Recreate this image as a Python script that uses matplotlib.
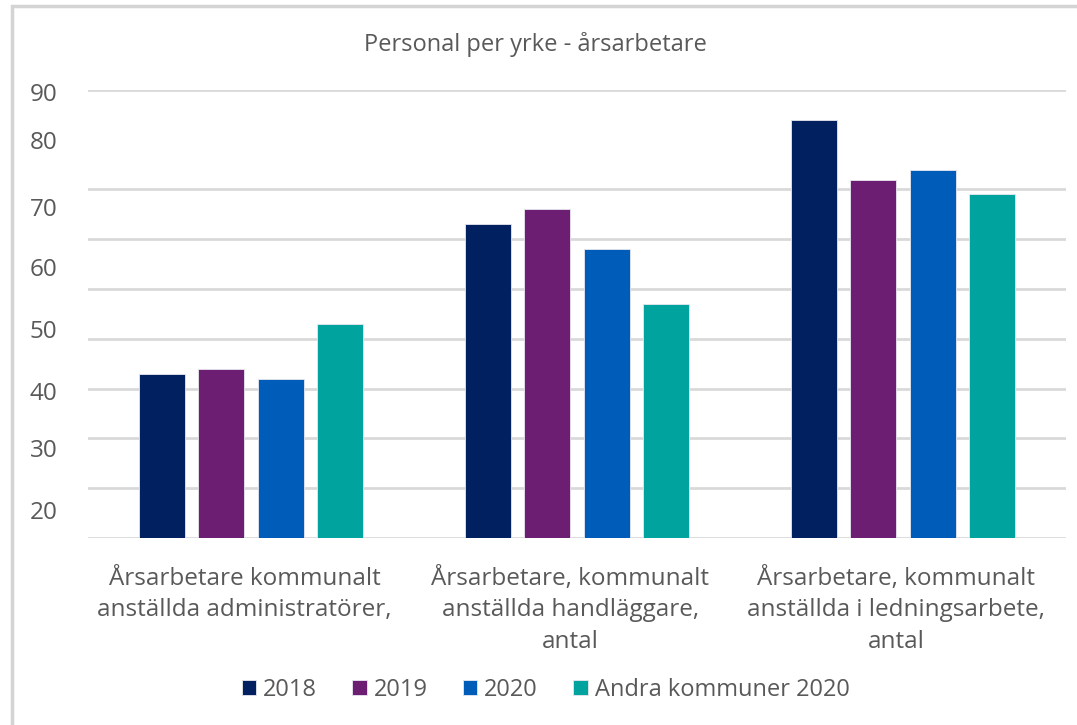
import matplotlib.pyplot as plt
import matplotlib.patches as mpatches
import numpy as np

# data
categories = ['Årsarbetare kommunalt\nanställda administratörer,',
              'Årsarbetare, kommunalt\nanställda handläggare,\nantal',
              'Årsarbetare, kommunalt\nanställda i ledningsarbete,\nantal']
series = ['2018', '2019', '2020', 'Andra kommuner 2020']
v2018 = [33, 63, 84]
v2019 = [34, 66, 72]
v2020 = [32, 58, 74]
vandra = [43, 47, 69]
ytick_labels = ['90', '80', '70', '60', '50', '40', '30', '20']

colors = ['#002060', '#6C1F72', '#005CB9', '#00A39D']
grey = '#595959'

plt.rcParams['font.family'] = ['Open Sans', 'DejaVu Sans']

fig = plt.figure(figsize=(10.77, 7.25), dpi=100)
ax = fig.add_axes([0.0817, 0.258, 0.908, 0.618])

# outer chart border (only top and left visible in the screenshot)
fig.patches.append(mpatches.Rectangle((0.011, -0.05), 1.2, 1.042, transform=fig.transFigure,
                                      fill=False, edgecolor='#d4d4d4', linewidth=2.5))

x = np.arange(len(categories))
step = 0.1825
width = 0.141
allvals = [v2018, v2019, v2020, vandra]
for i, (vals, name) in enumerate(zip(allvals, series)):
    ax.bar(x + (i - 1.5) * step, vals, width, color=colors[i], label=name,
           edgecolor='#e8e8ef', linewidth=0.6, zorder=3)

ax.set_xlim(-0.5, 2.5)
ax.set_ylim(0, 90)
ax.set_yticks(np.arange(0, 91, 10), minor=True)
ax.grid(axis='y', which='minor', color='#d9d9d9', linewidth=2, zorder=0)
ax.tick_params(axis='y', which='minor', length=0)

# the y labels in the original do not sit on the gridlines
label_pos = [89.6, 80, 66.4, 54.4, 42, 29.6, 18, 5.6]
ax.set_yticks(label_pos)
ax.set_yticklabels(ytick_labels)
ax.tick_params(axis='y', which='major', length=0, pad=22, labelsize=17.5, labelcolor=grey)

# labels sit slightly left of the bar groups in the original
ax.set_xticks(x - 0.02)
ax.set_xticklabels(categories, fontsize=17.5, color=grey, linespacing=1.4)
ax.tick_params(axis='x', length=0, pad=21)

for s in ax.spines.values():
    s.set_visible(False)

fig.text(0.497, 0.938, 'Personal per yrke - årsarbetare', ha='center', va='center',
         fontsize=17, color=grey)

ax.legend(loc='center', bbox_to_anchor=(0.468, -0.34), ncol=4, frameon=False,
          fontsize=17, labelcolor=grey, handlelength=0.6, handleheight=0.6,
          handletextpad=0.3, columnspacing=1.5)

fig.savefig('out.png', dpi=100)
